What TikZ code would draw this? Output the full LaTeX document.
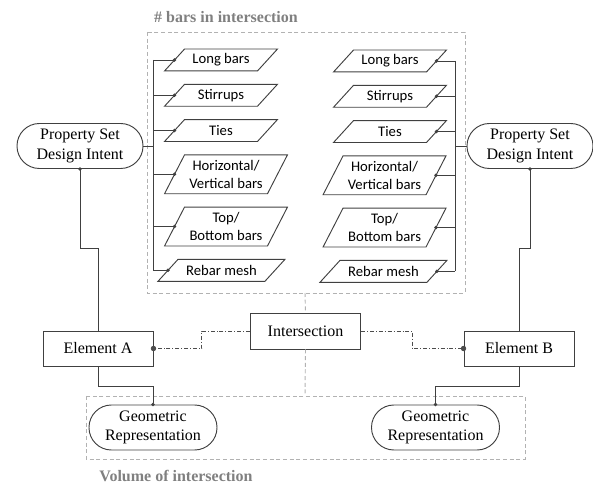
\documentclass[tikz,border=0pt]{standalone}
\usepackage{fontspec}
\setmainfont{Liberation Serif}
\newfontfamily\barfont{Carlito}
\usepackage{tikz}
\usetikzlibrary{shapes}
\usetikzlibrary{arrows.meta,positioning}
\tikzstyle{pset}=[rectangle, rounded corners=16.8pt, draw=black!75, line width=0.7pt, inner sep=0pt, minimum width=94.5pt, minimum height=33.75pt, align=center, font=\fontsize{12}{14.5}\selectfont]
\tikzstyle{elem}=[rectangle, draw=black!75, line width=0.7pt, minimum width=82.5pt, minimum height=26.25pt, font=\fontsize{12}{14}\selectfont]
\tikzstyle{bar}=[rectangle, inner sep=0pt, minimum width=69pt, minimum height=15.75pt, align=center, font=\barfont\fontsize{11}{13}\selectfont,
  append after command={\pgfextra{\draw[draw=black!75, line width=0.7pt] ([xshift=-7.5pt]\tikzlastnode.south west) -- ([xshift=7.5pt]\tikzlastnode.north west) -- ([xshift=7.5pt]\tikzlastnode.north east) -- ([xshift=-7.5pt]\tikzlastnode.south east) -- cycle;}}]
\tikzstyle{barII}=[bar, minimum width=76.5pt, minimum height=28.5pt]
\tikzstyle{grp}=[draw=black!30, line width=0.7pt, dash pattern=on 3pt off 2pt]
\tikzstyle{grplabel}=[text=black!50, font=\bfseries\fontsize{12}{14}\selectfont]
\tikzstyle{link}=[draw=black!70, line width=0.6pt, dash pattern=on 3pt off 1.5pt on 0.6pt off 1.5pt]

\begin{document}
\begin{tikzpicture}[x=0.75pt, y=-0.75pt, >={Circle[length=2.5pt]}, line width=0.7pt, draw=black!75, node distance=10pt]
\useasboundingbox (0,0) rectangle (593,484);
%
  \node[pset] (psl) at (80,146) {Property Set\\Design Intent};
  \node[pset] (psr) at (530,146) {Property Set\\Design Intent};
  \node[elem] (ea) at (98,348.5) {Element A};
  \node[elem] (eb) at (519,348.5) {Element B};
  \node[elem, minimum width=83pt, minimum height=27pt] (int) at (305.5,331) {Intersection};
  \node[pset, minimum width=96pt] (gl) at (153,427.5) {Geometric\\Representation};
  \node[pset, minimum width=96pt] (gr) at (435.5,427.5) {Geometric\\Representation};
%
  \node[bar] (lbl) at (221,60) {Long bars};
  \node[bar] (stl) [below=of lbl] {Stirrups};
  \node[bar] (til) [below=of stl] {Ties};
  \node[barII] (hvl) [below=of til, xshift=3.75pt] {Horizontal/\\Vertical bars};
  \node[barII] (tbl) [below=of hvl] {Top/\\Bottom bars};
  \node[bar, minimum width=79.5pt] (rml) [below=of tbl, xshift=-3.4pt] {Rebar mesh};
  \node[bar] (lbr) at (390,61) {Long bars};
  \node[bar] (str) [below=of lbr] {Stirrups};
  \node[bar] (tir) [below=of str] {Ties};
  \node[barII] (hvr) [below=of tir, xshift=-4.1pt] {Horizontal/\\Vertical bars};
  \node[barII] (tbr) [below=of hvr] {Top/\\Bottom bars};
  \node[bar, minimum width=79.5pt] (rmr) [below=of tbr, xshift=-0.8pt] {Rebar mesh};
%
  \node[grplabel] (tbar) at (226,17) {\# bars in intersection};
  \node[grplabel] (tvol) at (176,476) {Volume of intersection};
  \coordinate (busl) at (153,0);
  \coordinate (busr) at (455,0);
  \coordinate (topgrp) at (305,293);
  \coordinate (botgrp) at (305,396);
%
  \draw[grp] (147,32) rectangle (465,293);
  \draw[grp] (86,396) rectangle (525,459);
  \draw[grp] (topgrp) -- (int.north) (int.south) -- (botgrp);
%
  \draw (psl.east) -- (busl |- psl.east);
  \draw (busl |- lbl.west) -- (busl |- rml.west);
  \draw (psr.west) -- (busr |- psr.west);
  \draw (busr |- lbr.east) -- (busr |- rmr.east);
  \path[->, shorten >=-1.25pt]
  (busl |- lbl.west) edge (lbl.west)
  (busl |- stl.west) edge (stl.west)
  (busl |- til.west) edge (til.west)
  (busl |- hvl.west) edge (hvl.west)
  (busl |- tbl.west) edge (tbl.west)
  (busl |- rml.west) edge (rml.west)
  (busr |- lbr.east) edge (lbr.east)
  (busr |- str.east) edge (str.east)
  (busr |- tir.east) edge (tir.east)
  (busr |- hvr.east) edge (hvr.east)
  (busr |- tbr.east) edge (tbr.east)
  (busr |- rmr.east) edge (rmr.east);
%
  \draw[->, shorten >=-1.25pt] (ea.north) -- ++(0,-82) -| (psl.south);
  \draw[->, shorten >=-1.25pt] (ea.south) -- ++(0,20) -| (gl.north);
  \draw[->, shorten >=-1.25pt] (eb.north) -- ++(0,-82) -| (psr.south);
  \draw[->, shorten >=-1.25pt] (eb.south) -- ++(0,20) -| (gr.north);
  \draw[link, -{Circle[length=4pt]}, shorten >=-2pt] (int.west) -- ++(-48,0) |- (ea.east);
  \draw[link, -{Circle[length=4pt]}, shorten >=-2pt] (int.east) -- ++(51,0) |- (eb.west);
%
\end{tikzpicture}
\end{document}
